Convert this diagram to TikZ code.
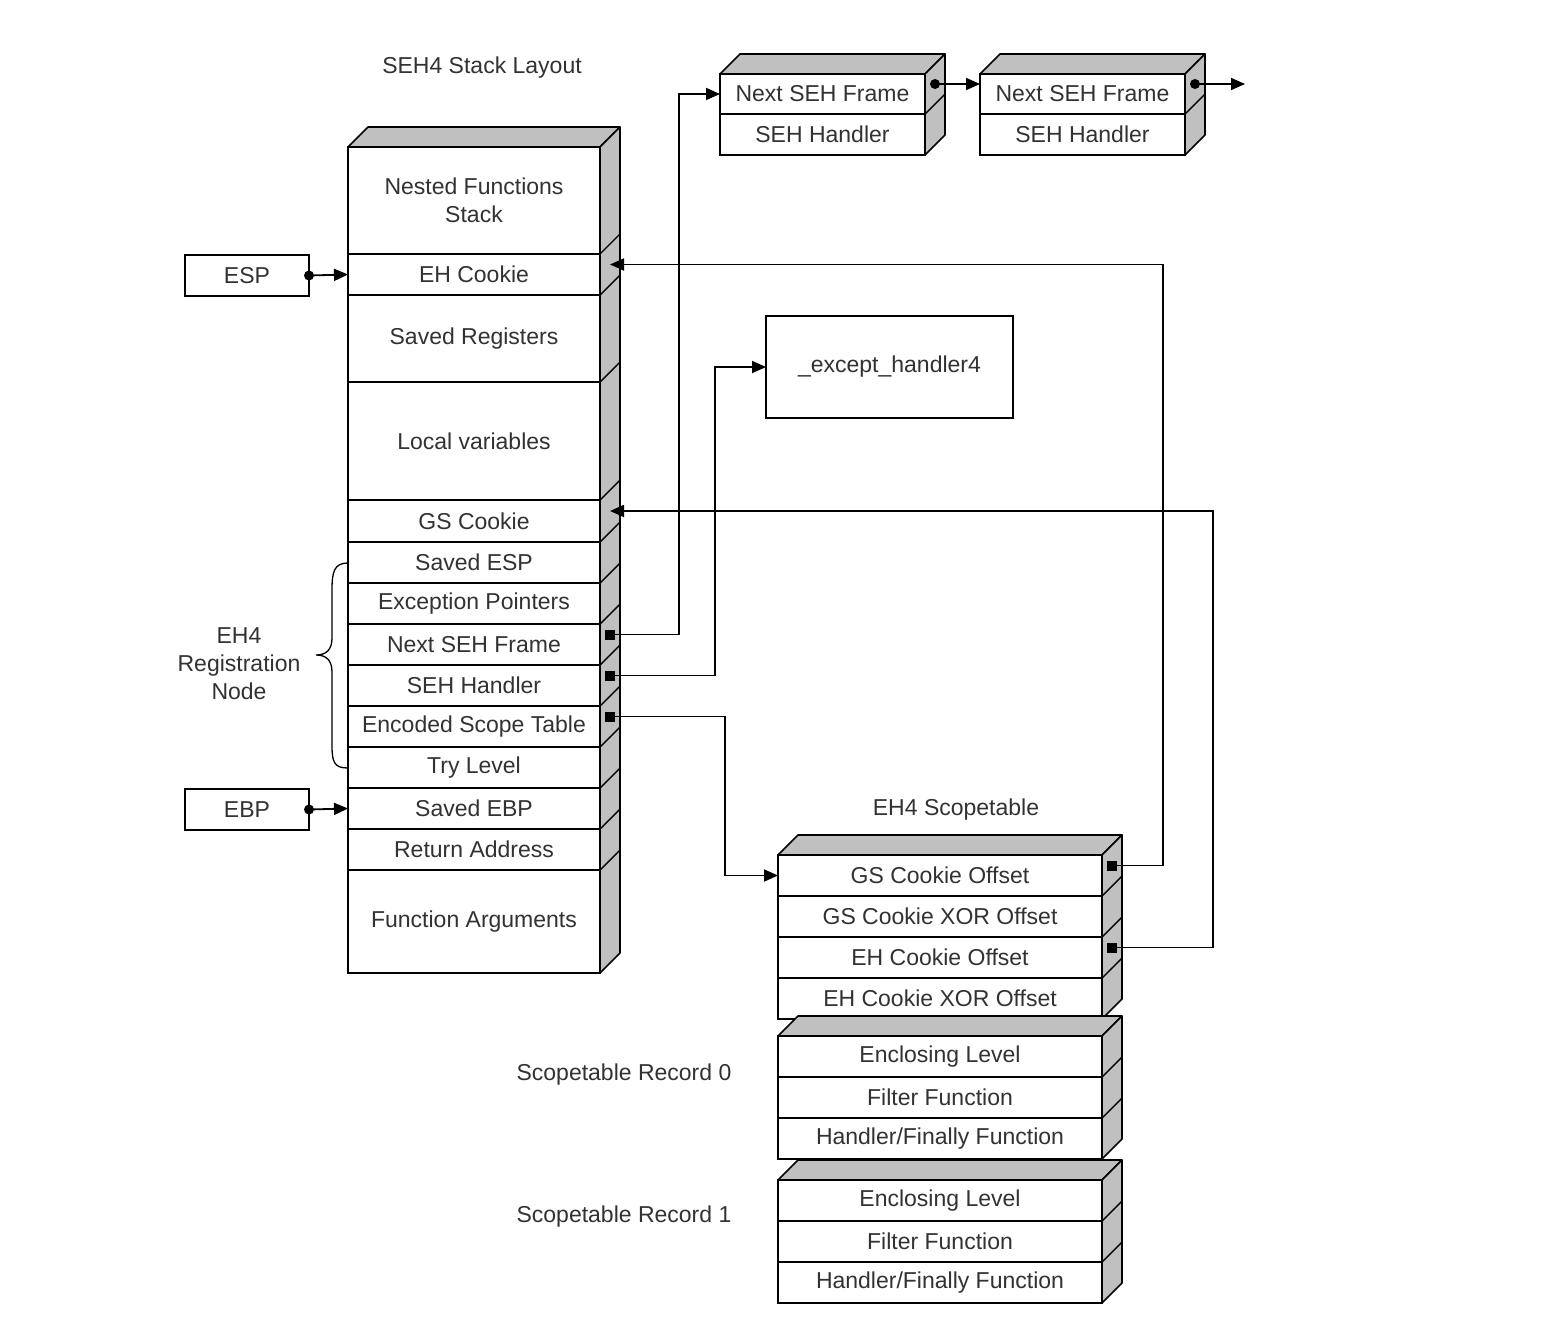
\documentclass[tikz,border=0pt]{standalone}
\usepackage{fontspec}
\setmainfont{Liberation Sans}
\usetikzlibrary{arrows.meta}
\definecolor{face}{RGB}{192,192,192}
\definecolor{txt}{RGB}{50,50,50}
\newcommand\lbl{\fontsize{23}{28}\selectfont}
\newcommand\tdbox[4]{%
  \filldraw[fill=face,draw=black,line width=1.6pt,line join=round]
    (#1,#3) -- (#1+20,#3-20) -- (#2+20,#3-20) -- (#2,#3) -- cycle;
  \filldraw[fill=face,draw=black,line width=1.6pt,line join=round]
    (#2,#3) -- (#2+20,#3-20) -- (#2+20,#4-20) -- (#2,#4) -- cycle;
}
\begin{document}
\begin{tikzpicture}[x=1pt,y=-1pt,
  cell/.style={draw=black, line width=1.8pt, fill=white, inner sep=0pt, outer sep=0pt,
    anchor=north west, font=\lbl, text=txt, align=center},
  stk/.style={cell, minimum width=252pt, minimum height=#1},
  frm/.style={cell, minimum width=205pt, minimum height=#1},
  scp/.style={cell, minimum width=324pt, minimum height=#1},
  diag/.style={line width=1.4pt},
  lab/.style={font=\lbl, text=txt, align=center, inner sep=0pt},
  conn/.style={line width=1.8pt, draw=black},
  tip/.style={-{Triangle[length=14pt,width=12pt]}},
  sq/.style={fill=black, minimum size=10pt, inner sep=0pt},
  dot/.style={circle, fill=black, minimum size=10pt, inner sep=0pt}]
\useasboundingbox (0,0) rectangle (1558,1338);
\fill[white] (0,0) rectangle (1558,1338);

% ---------- titles ----------
\node[lab] (ttl) at (482,68) {SEH4 Stack Layout};
\node[lab] (ttl2) at (956,810) {EH4 Scopetable};
\node[lab] (rec0) at (624,1075) {Scopetable Record 0};
\node[lab] (rec1) at (624,1217) {Scopetable Record 1};
\node[lab] (reg) at (239,664) {EH4\\Registration\\Node};

% ---------- stack ----------
\tdbox{348}{600}{147}{973}
\foreach \yy in {254,295,382,500,542,583,624,665,706,747,788,829,870}
  \draw[diag] (600,\yy) -- (620,\yy-20);
\node[stk=107pt] (ns) at (348,147) {Nested Functions\\Stack};
\node[stk=41pt] (ehc) at (348,254) {EH Cookie};
\node[stk=87pt] (sr) at (348,295) {Saved Registers};
\node[stk=118pt] (lv) at (348,382) {Local variables};
\node[stk=42pt] (gsc) at (348,500) {GS Cookie};
\node[stk=41pt] (sesp) at (348,542) {Saved ESP};
\node[stk=41pt] (ep) at (348,583) {Exception Pointers};
\node[stk=41pt] (nsf) at (348,624) {Next SEH Frame};
\node[stk=41pt] (sh) at (348,665) {SEH Handler};
\node[stk=41pt] (est) at (348,706) {Encoded Scope Table};
\node[stk=41pt] (tl) at (348,747) {Try Level};
\node[stk=41pt] (sebp) at (348,788) {Saved EBP};
\node[stk=41pt] (ra) at (348,829) {Return Address};
\node[stk=103pt] (fa) at (348,870) {Function Arguments};

% ---------- ESP / EBP ----------
\node[cell, minimum width=124pt, minimum height=41pt] (esp) at (185,255) {ESP};
\node[cell, minimum width=124pt, minimum height=41pt] (ebp) at (185,789) {EBP};
\draw[conn,tip] (esp.east) -- (ehc.west);
\draw[conn,tip] (ebp.east) -- (sebp.west);
\node[dot] (espd) at (esp.east) {};
\node[dot] (ebpd) at (ebp.east) {};

% ---------- brace ----------
\coordinate (bt) at (348,563);
\coordinate (bb) at (348,768);
\draw[line width=1.3pt] (bt) .. controls (334,563) and (332,572) .. (332,590)
  -- (332,638) .. controls (332,650) and (326,655) .. (316,655)
  .. controls (326,655) and (332,660) .. (332,672)
  -- (332,745) .. controls (332,762) and (334,768) .. (bb);

% ---------- SEH frames ----------
\tdbox{720}{925}{74}{155}
\draw[diag] (925,114) -- (945,94);
\node[frm=40pt] (f1a) at (720,74) {Next SEH Frame};
\node[frm=41pt] (f1b) at (720,114) {SEH Handler};
\tdbox{980}{1185}{74}{155}
\draw[diag] (1185,114) -- (1205,94);
\node[frm=40pt] (f2a) at (980,74) {Next SEH Frame};
\node[frm=41pt] (f2b) at (980,114) {SEH Handler};
\coordinate (end) at (1245,84);

% ---------- except handler ----------
\node[cell, minimum width=247pt, minimum height=102pt] (exh) at (766,316) {\_except\_handler4};

% ---------- scopetable ----------
\tdbox{778}{1102}{855}{1019}
\foreach \yy in {896,937,978} \draw[diag] (1102,\yy) -- (1122,\yy-20);
\node[scp=41pt] (gso) at (778,855) {GS Cookie Offset};
\node[scp=41pt] (gsx) at (778,896) {GS Cookie XOR Offset};
\node[scp=41pt] (eho) at (778,937) {EH Cookie Offset};
\node[scp=41pt] (ehx) at (778,978) {EH Cookie XOR Offset};

\tdbox{778}{1102}{1036}{1159}
\foreach \yy in {1077,1118} \draw[diag] (1102,\yy) -- (1122,\yy-20);
\node[scp=41pt] (r0a) at (778,1036) {Enclosing Level};
\node[scp=41pt] (r0b) at (778,1077) {Filter Function};
\node[scp=41pt] (r0c) at (778,1118) {Handler/Finally Function};

\tdbox{778}{1102}{1180}{1303}
\foreach \yy in {1221,1262} \draw[diag] (1102,\yy) -- (1122,\yy-20);
\node[scp=41pt] (r1a) at (778,1180) {Enclosing Level};
\node[scp=41pt] (r1b) at (778,1221) {Filter Function};
\node[scp=41pt] (r1c) at (778,1262) {Handler/Finally Function};

% ---------- attachment points ----------
\coordinate (ehcP) at ([shift={(10,-10)}]ehc.east);
\coordinate (gscP) at ([shift={(10,-10)}]gsc.east);
\node[sq] (s1) at ([shift={(10,-10)}]nsf.east) {};
\node[sq] (s2) at ([shift={(10,-10)}]sh.east) {};
\node[sq] (s3) at ([shift={(10,-10)}]est.east) {};
\node[sq] (s4) at ([shift={(10,-10)}]gso.east) {};
\node[sq] (s5) at ([shift={(10,-10)}]eho.east) {};

% ---------- connectors ----------
\draw[conn,tip] (s1.center) -| ([xshift=-41pt]f1a.west) -- (f1a.west);
\draw[conn,tip] (s2.center) -| ([xshift=-51pt]exh.west) -- (exh.west);
\draw[conn,tip] (s3.center) -| ([xshift=-53pt]gso.west) -- (gso.west);
\draw[conn,tip] (s4.center) -- ++(51,0) |- (ehcP);
\draw[conn,tip] (s5.center) -- ++(101,0) |- (gscP);
\draw[conn,tip] ([shift={(10,-10)}]f1a.east) -- ([yshift=10pt]f2a.west);
\draw[conn,tip] ([shift={(10,-10)}]f2a.east) -- (end);
\node[dot] (d1) at ([shift={(10,-10)}]f1a.east) {};
\node[dot] (d2) at ([shift={(10,-10)}]f2a.east) {};
\end{tikzpicture}
\end{document}
